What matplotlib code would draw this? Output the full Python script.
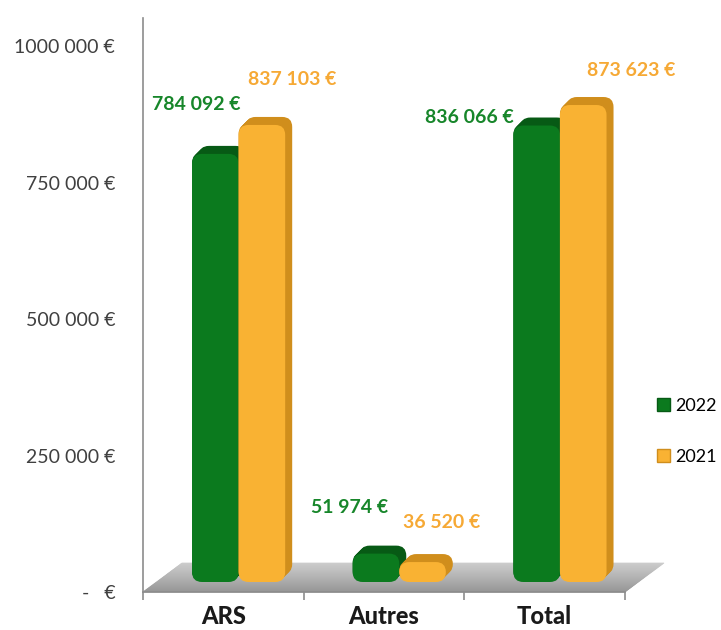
import numpy as np
import matplotlib
matplotlib.use('Agg')
import matplotlib.pyplot as plt
from matplotlib.patches import FancyBboxPatch, Polygon, Patch
from matplotlib import transforms

plt.rcParams['font.family'] = ['Lato', 'DejaVu Sans']

categories = ['ARS', 'Autres', 'Total']
years = ['2022', '2021']
values_2022 = [784092, 51974, 836066]
values_2021 = [837103, 36520, 873623]
labels_2022 = ['784 092 €', '51 974 €', '836 066 €']
labels_2021 = ['837 103 €', '36 520 €', '873 623 €']
yticks = [0, 250000, 500000, 750000, 1000000]
ytick_labels = ['-   €', '250 000 €', '500 000 €', '750 000 €', '1000 000 €']

# label offsets (pixels) from the top centre of each bar
off_2022 = [(-19, 49), (-26, 46), (-67, 8)]
off_2021 = [(30, 45), (19, 40), (48, 35)]

green, green_side, green_txt = '#0b7a1e', '#075a15', '#17862a'
orange, orange_side, orange_txt = '#f9b233', '#d08e1c', '#f6a935'
axis_col = '#8c8c8c'

fig = plt.figure(figsize=(7.21, 6.30), dpi=100)
ax = fig.add_axes([143 / 721, 38 / 630, 482 / 721, 574 / 630])
ax.set_xlim(-0.5, 2.5)
ax.set_ylim(0, 1051300)

# pixel scales for the faux 3D
p0 = ax.transData.transform((0, 0))
p1 = ax.transData.transform((1, 1e6))
px_x = p1[0] - p0[0]
px_y = (p1[1] - p0[1]) / 1e6
aspect = px_x / px_y
base = 10 / px_y
depth = 8
rnd = 10 / px_x

# floor
fl_top = 29 / px_y
fl_dx = 39 / px_x
nstrip = 30
c_top = np.array([0.80, 0.80, 0.80])
c_bot = np.array([0.58, 0.58, 0.58])
for i in range(nstrip):
    f0, f1 = i / nstrip, (i + 1) / nstrip
    y0, y1 = fl_top * f0, fl_top * f1
    verts = [(-0.5 + fl_dx * f0, y0), (2.5 + fl_dx * f0, y0),
             (2.5 + fl_dx * f1, y1), (-0.5 + fl_dx * f1, y1)]
    col = c_bot + (c_top - c_bot) * (f0 + f1) / 2
    ax.add_patch(Polygon(verts, closed=True, fc=col, ec=col, lw=0.5,
                         zorder=1, clip_on=False))


def bar3d(xs, heights, face, side, z):
    bars = ax.bar(xs, heights, 0.29, bottom=base, color=face, zorder=z)
    for b in bars:
        b.set_visible(False)
        x0, y0, w, h = b.get_x(), b.get_y(), b.get_width(), b.get_height()
        style = f'round,pad=0,rounding_size={rnd}'
        for k in range(depth, 0, -1):
            tr = transforms.offset_copy(ax.transData, fig=fig, x=k - 1, y=k, units='dots')
            ax.add_patch(FancyBboxPatch((x0, y0), w, h, boxstyle=style,
                                        mutation_aspect=aspect, fc=side, ec='none',
                                        transform=tr, zorder=z))
        ax.add_patch(FancyBboxPatch((x0, y0), w, h, boxstyle=style,
                                    mutation_aspect=aspect, fc=face, ec='none',
                                    zorder=z + 0.5))
    return bars


x = np.arange(len(categories))
bars_g = bar3d(x - 0.05, values_2022, green, green_side, 3)
bars_o = bar3d(x + 0.24, values_2021, orange, orange_side, 4)

for bars, labs, offs, col in [(bars_g, labels_2022, off_2022, green_txt),
                              (bars_o, labels_2021, off_2021, orange_txt)]:
    for b, lab, off in zip(bars, labs, offs):
        ax.annotate(lab, (b.get_x() + b.get_width() / 2, b.get_y() + b.get_height()),
                    xytext=off, textcoords='offset pixels', ha='center', va='center',
                    color=col, fontsize=14, fontweight='bold', zorder=10)

ax.set_xticks(x, categories, fontsize=17, fontweight='black', color='#1a1a1a')
ax.set_xticks([-0.5, 0.5, 1.5, 2.5], minor=True)
ax.tick_params(axis='x', which='major', length=0, pad=9)
ax.tick_params(axis='x', which='minor', length=6, color=axis_col, width=1.2)
ax.set_yticks(yticks, ytick_labels, fontsize=14, color='#404040')
ax.tick_params(axis='y', length=0, pad=20)

for s in ['top', 'right']:
    ax.spines[s].set_visible(False)
for s in ['left', 'bottom']:
    ax.spines[s].set_color(axis_col)
    ax.spines[s].set_linewidth(1.2)
    ax.spines[s].set_zorder(2)

handles = [Patch(fc=green, ec=green_side), Patch(fc=orange, ec=orange_side)]
ax.legend(handles, years, loc='center left', bbox_to_anchor=(657 / 721, 1 - 431.5 / 630),
          bbox_transform=fig.transFigure, frameon=False, borderpad=0, borderaxespad=0,
          handlelength=0.7, handleheight=0.7, handletextpad=0.3, labelspacing=1.95,
          prop={'size': 13})

fig.savefig('out.png', dpi=100)
